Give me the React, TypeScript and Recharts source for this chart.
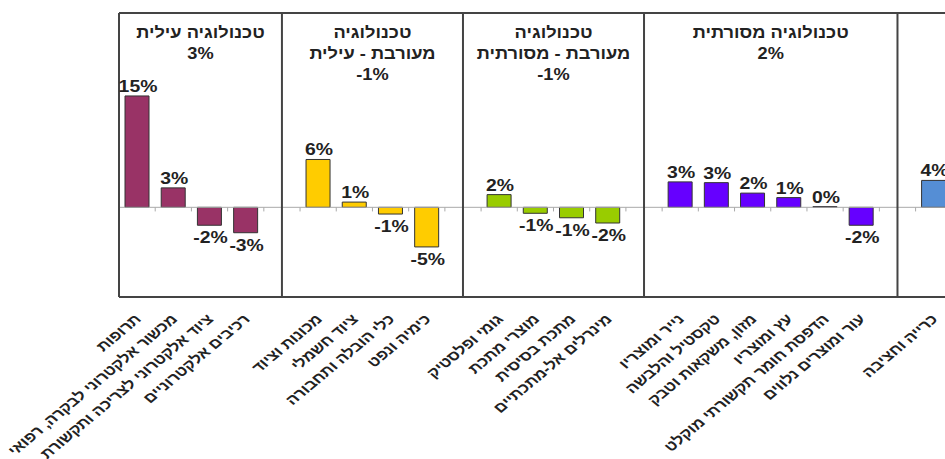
import React from 'react';
import {
  BarChart,
  Bar,
  XAxis,
  YAxis,
  Cell,
  LabelList,
  ReferenceLine,
  ReferenceDot,
} from 'recharts';

// industry branches per technology group, % change
const highTechNames = ['תרופות', 'מכשור אלקטרוני לבקרה, רפואי', 'ציוד אלקטרוני לצריכה ותקשורת', 'רכיבים אלקטרוניים'];
const highTechValues = [14.9, 2.6, -2.4, -3.4];

const mixedHighNames = ['מכונות וציוד', 'ציוד חשמלי', 'כלי הובלה ותחבורה', 'כימיה ונפט'];
const mixedHighValues = [6.4, 0.7, -0.9, -5.3];

const mixedLowNames = ['גומי ופלסטיק', 'מוצרי מתכת', 'מתכת בסיסית', 'מינרלים אל-מתכתיים'];
const mixedLowValues = [1.7, -0.8, -1.4, -2.1];

const lowTechNames = ['נייר ומוצריו', 'טקסטיל והלבשה', 'מזון, משקאות וטבק', 'עץ ומוצריו', 'הדפסת חומר תקשורתי מוקלט', 'עור ומוצרים נלווים'];
const lowTechValues = [3.4, 3.3, 1.9, 1.3, 0.1, -2.4];

const miningNames = ['כרייה וחציבה'];
const miningValues = [3.6];

const panelTitles = [['טכנולוגיה עילית'], ['טכנולוגיה', 'מעורבת - עילית'], ['טכנולוגיה', 'מעורבת - מסורתית'], ['טכנולוגיה מסורתית'], []];
const panelChanges = ['3%', '-1%', '-1%', '2%', ''];
const panelColors = ['#993366', '#FFCC00', '#99CC00', '#6600FF', '#558ED5'];

const yDomain: [number, number] = [-12, 26];

const groups = [
  { names: highTechNames, values: highTechValues },
  { names: mixedHighNames, values: mixedHighValues },
  { names: mixedLowNames, values: mixedLowValues },
  { names: lowTechNames, values: lowTechValues },
  { names: miningNames, values: miningValues },
];

// one empty slot after every group, the panel divider sits in its middle
const data: { name: string; value: number | null; group: number; pos: number }[] = [];
const dividers: number[] = [];
const centers: number[] = [];
groups.forEach((g, gi) => {
  const left = gi === 0 ? 0 : dividers[gi - 1];
  g.names.forEach((name, i) => data.push({ name, value: g.values[i], group: gi, pos: data.length + 0.5 }));
  data.push({ name: '', value: null, group: gi, pos: data.length + 0.5 });
  dividers.push(data.length - 0.5);
  centers.push((left + data.length - 0.5) / 2);
});
const slotCount = data.length;

const FONT = '"Liberation Sans", Arial, "DejaVu Sans", sans-serif';
const STRETCH = 1.14; // source picture is a bit wider than tall
const TICK_STRETCH = 1.2;

const BranchTick = (props: any) => {
  const { x, y, payload } = props;
  if (!payload.value) return null;
  const ax = x + 5;
  const ay = y + 15;
  return (
    <text
      x={0}
      y={0}
      transform={`translate(${ax},${ay}) scale(${TICK_STRETCH},1) rotate(-45)`}
      textAnchor="end"
      fontFamily={FONT}
      fontSize={14}
      fontWeight="bold"
      fill="#222"
    >
      {payload.value}
    </text>
  );
};

const ValueLabel = (props: any) => {
  const { x, y, width, height, value } = props;
  if (value === null || value === undefined) return null;
  const top = Math.min(y, y + height);
  const bottom = Math.max(y, y + height);
  const cx = x + width / 2 + 1;
  const ty = value >= 0 ? top - 4 : bottom + 18;
  return (
    <text
      x={0}
      y={0}
      transform={`translate(${cx},${ty}) scale(${STRETCH},1)`}
      textAnchor="middle"
      fontFamily={FONT}
      fontSize={17}
      fontWeight="bold"
      fill="#222"
    >
      {`${Math.round(value)}%`}
    </text>
  );
};

const PanelTitle = (lines: string[], change: string) => (props: any) => {
  const { cx, cy } = props;
  const all = change ? [...lines, change] : lines;
  return (
    <g>
      {all.map((t, i) => (
        <text
          key={i}
          x={0}
          y={0}
          transform={`translate(${cx},${cy + 25 + i * 21}) scale(${STRETCH},1)`}
          textAnchor="middle"
          fontFamily={FONT}
          fontSize={16}
          fontWeight="bold"
          fill="#222"
        >
          {t}
        </text>
      ))}
    </g>
  );
};

export default function App() {
  const boundaries = Array.from({ length: slotCount + 1 }, (_, k) => k);

  return (
    <div style={{ position: 'fixed', left: 0, top: 0, width: 945, height: 459, overflow: 'hidden', background: '#fff' }}>
      <BarChart
        width={1000}
        height={459}
        data={data}
        margin={{ top: 13, right: 12, left: 119, bottom: 132 }}
      >
        <XAxis
          dataKey="name"
          interval={0}
          tickLine={false}
          axisLine={false}
          height={30}
          tick={<BranchTick />}
        />
        <XAxis xAxisId="num" dataKey="pos" type="number" domain={[0, slotCount]} allowDataOverflow hide />
        <YAxis hide type="number" domain={yDomain} allowDataOverflow />

        <ReferenceLine y={0} stroke="#aaa" strokeWidth={1} />
        {boundaries.map((k) => (
          <ReferenceLine
            key={`t${k}`}
            xAxisId="num"
            segment={[{ x: k, y: 0 }, { x: k, y: -0.55 }]}
            stroke="#aaa"
          />
        ))}

        <Bar dataKey="value" barSize={24} isAnimationActive={false} stroke="#333" strokeWidth={1}>
          {data.map((d, i) => (
            <Cell key={i} fill={panelColors[d.group]} />
          ))}
          <LabelList dataKey="value" content={<ValueLabel />} />
        </Bar>

        {dividers.map((d, i) => (
          <ReferenceLine key={`d${i}`} xAxisId="num" x={d} stroke="#444" strokeWidth={2} />
        ))}
        <ReferenceLine xAxisId="num" x={0} stroke="#444" strokeWidth={2} />
        <ReferenceLine y={yDomain[1]} stroke="#444" strokeWidth={2} />
        <ReferenceLine y={yDomain[0]} stroke="#444" strokeWidth={2} />

        {panelTitles.map((lines, i) =>
          lines.length || panelChanges[i] ? (
            <ReferenceDot
              key={`p${i}`}
              xAxisId="num"
              x={centers[i]}
              y={yDomain[1]}
              r={0}
              shape={PanelTitle(lines, panelChanges[i])}
            />
          ) : null
        )}
      </BarChart>
    </div>
  );
}
